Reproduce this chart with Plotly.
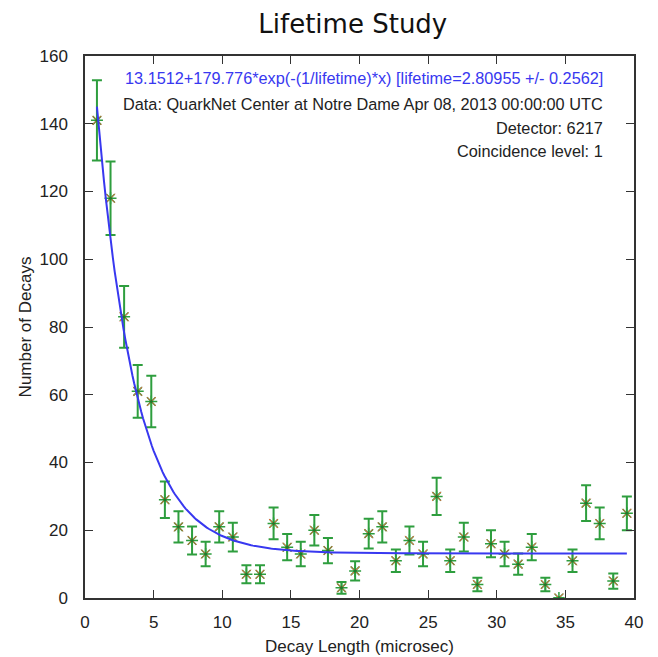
import numpy as np
import plotly.graph_objects as go

# Data
decay_length = [0.87, 1.86, 2.85, 3.84, 4.83, 5.82, 6.81, 7.80, 8.79, 9.78,
                10.77, 11.76, 12.75, 13.74, 14.73, 15.72, 16.71, 17.70, 18.69, 19.68,
                20.67, 21.66, 22.65, 23.64, 24.63, 25.62, 26.61, 27.60, 28.59, 29.58,
                30.57, 31.56, 32.55, 33.54, 34.53, 35.52, 36.51, 37.50, 38.49, 39.48]
num_decays = [141, 118, 83, 61, 58, 29, 21, 17, 13, 21,
              18, 7, 7, 22, 15, 13, 20, 14, 3, 8,
              19, 21, 11, 17, 13, 30, 11, 18, 4, 16,
              13, 10, 15, 4, 0, 11, 28, 22, 5, 25]

# Fit parameters shown in the chart
fit_offset = 13.1512
fit_amp = 179.776
fit_lifetime = 2.80955

x_tick_vals = [0, 5, 10, 15, 20, 25, 30, 35, 40]
y_tick_vals = [0, 20, 40, 60, 80, 100, 120, 140, 160]

errors = list(np.sqrt(num_decays))
x_fit = np.linspace(decay_length[0], decay_length[-1], 300)
y_fit = fit_offset + fit_amp * np.exp(-x_fit / fit_lifetime)

fig = go.Figure()
fig.add_trace(go.Scatter(
    x=decay_length, y=num_decays, mode="markers",
    error_y=dict(type="data", array=errors, visible=True, color="#2e9e3e",
                 thickness=2, width=5),
    marker=dict(symbol="asterisk-open", size=10, color="#2e9e3e",
                line=dict(color="#2e9e3e", width=1.5)),
    showlegend=False, hoverinfo="skip"))
fig.add_trace(go.Scatter(
    x=decay_length, y=num_decays, mode="markers",
    marker=dict(symbol="x-thin-open", size=9, color="#e8603a",
                line=dict(color="#e8603a", width=1)),
    showlegend=False, hoverinfo="skip"))
fig.add_trace(go.Scatter(
    x=decay_length, y=num_decays, mode="markers",
    marker=dict(symbol="circle", size=3, color="#1e7a2a"),
    showlegend=False, hoverinfo="skip"))
fig.add_trace(go.Scatter(
    x=x_fit, y=y_fit, mode="lines",
    line=dict(color="#3838f0", width=2),
    showlegend=False, hoverinfo="skip"))

label_font = dict(family="Liberation Sans, Arial", size=17, color="#222222")
axis_common = dict(showline=True, linecolor="#333333", linewidth=1.5, mirror="ticks",
                   ticks="inside", ticklen=8, tickcolor="#333333", tickwidth=1,
                   showgrid=False, zeroline=False, tickfont=label_font)

fig.update_layout(
    width=658, height=657,
    paper_bgcolor="white", plot_bgcolor="white",
    margin=dict(l=77, r=32, t=48, b=67),
    title=dict(text="Lifetime Study", x=0.524, xanchor="center", y=0.976, yanchor="middle",
               font=dict(family="DejaVu Sans", size=26, color="#111111")),
    xaxis=dict(range=[0, 40], tickvals=x_tick_vals, ticklabelstandoff=8,
               title=dict(text="Decay Length (microsec)", standoff=9, font=label_font),
               **axis_common),
    yaxis=dict(range=[0, 160], tickvals=y_tick_vals, ticklabelstandoff=12,
               title=dict(text="Number of Decays", standoff=4, font=label_font),
               **axis_common),
)

ann_font = dict(family="Liberation Sans, Arial", size=16.3, color="#222222")
fig.add_annotation(xref="paper", yref="paper", x=0.948, y=0.959, xanchor="right", yanchor="middle",
                   text="13.1512+179.776*exp(-(1/lifetime)*x) [lifetime=2.80955 +/- 0.2562]",
                   showarrow=False, font=dict(family="Liberation Sans, Arial", size=16.3, color="#3838f0"))
fig.add_annotation(xref="paper", yref="paper", x=0.948, y=0.911, xanchor="right", yanchor="middle",
                   text="Data: QuarkNet Center at Notre Dame Apr 08, 2013 00:00:00 UTC",
                   showarrow=False, font=ann_font)
fig.add_annotation(xref="paper", yref="paper", x=0.948, y=0.867, xanchor="right", yanchor="middle",
                   text="Detector: 6217", showarrow=False, font=ann_font)
fig.add_annotation(xref="paper", yref="paper", x=0.948, y=0.825, xanchor="right", yanchor="middle",
                   text="Coincidence level: 1", showarrow=False, font=ann_font)

fig.write_html("out.html")
